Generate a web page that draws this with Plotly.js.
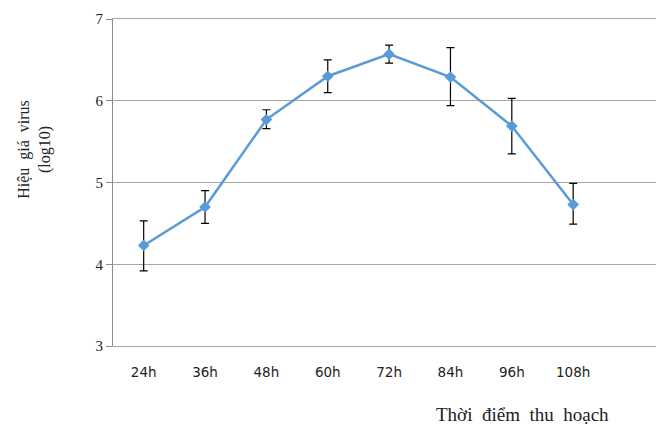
<!DOCTYPE html>
<html><head><meta charset="utf-8">
<script src="https://cdn.plot.ly/plotly-3.0.1.min.js"></script>
<style>html,body{margin:0;padding:0;background:#fff}</style>
</head><body><div id="chart" style="width:656px;height:427px"></div>
<script>
var categories = ["24h","36h","48h","60h","72h","84h","96h","108h"];
var titer = [4.23, 4.70, 5.77, 6.30, 6.57, 6.29, 5.69, 4.73];
var errUp = [0.30, 0.20, 0.12, 0.20, 0.11, 0.36, 0.34, 0.26];
var errDown = [0.31, 0.20, 0.11, 0.20, 0.11, 0.35, 0.34, 0.24];

var trace = {
  x: categories, y: titer, type: "scatter", mode: "lines+markers",
  line: {color: "#5B9BD5", width: 2.5},
  marker: {symbol: "diamond", size: 9, color: "#5B9BD5"},
  error_y: {type: "data", symmetric: false, array: errUp, arrayminus: errDown,
            color: "#000000", thickness: 1.2, width: 4},
  hoverinfo: "none"
};
var layout = {
  width: 656, height: 427,
  margin: {l: 113, r: 0, t: 19, b: 81},
  showlegend: false,
  paper_bgcolor: "#fff", plot_bgcolor: "#fff",
  xaxis: {type: "category", range: [-0.5, 8.35], showgrid: false, zeroline: false,
          showline: true, mirror: true, linecolor: "#A6A6A6", linewidth: 1,
          ticks: "", tickfont: {family: "DejaVu Sans", size: 13.5, color: "#222"},
          ticklabelstandoff: 14},
  yaxis: {range: [3, 7], dtick: 1, showgrid: true, gridcolor: "#A6A6A6", gridwidth: 1,
          zeroline: false, showline: true, linecolor: "#8C8C8C", linewidth: 1,
          ticks: "outside", ticklen: 6, tickcolor: "#8C8C8C",
          tickfont: {family: "Liberation Serif", size: 15, color: "#222"}},
  annotations: [
    {text: "Hiệu  giá  virus<br>(log10)", xref: "paper", yref: "paper", x: -0.1436, y: 0.6,
     xanchor: "center", yanchor: "middle", textangle: -90, showarrow: false,
     font: {family: "Liberation Serif", size: 16, color: "#222"}},
    {text: "Thời  điểm  thu  hoạch", xref: "paper", yref: "paper", x: 0.754, y: -0.211,
     xanchor: "center", yanchor: "middle", showarrow: false,
     font: {family: "Liberation Serif", size: 19, color: "#222"}}
  ]
};
Plotly.newPlot("chart", [trace], layout, {displayModeBar: false, staticPlot: true});
</script></body></html>
